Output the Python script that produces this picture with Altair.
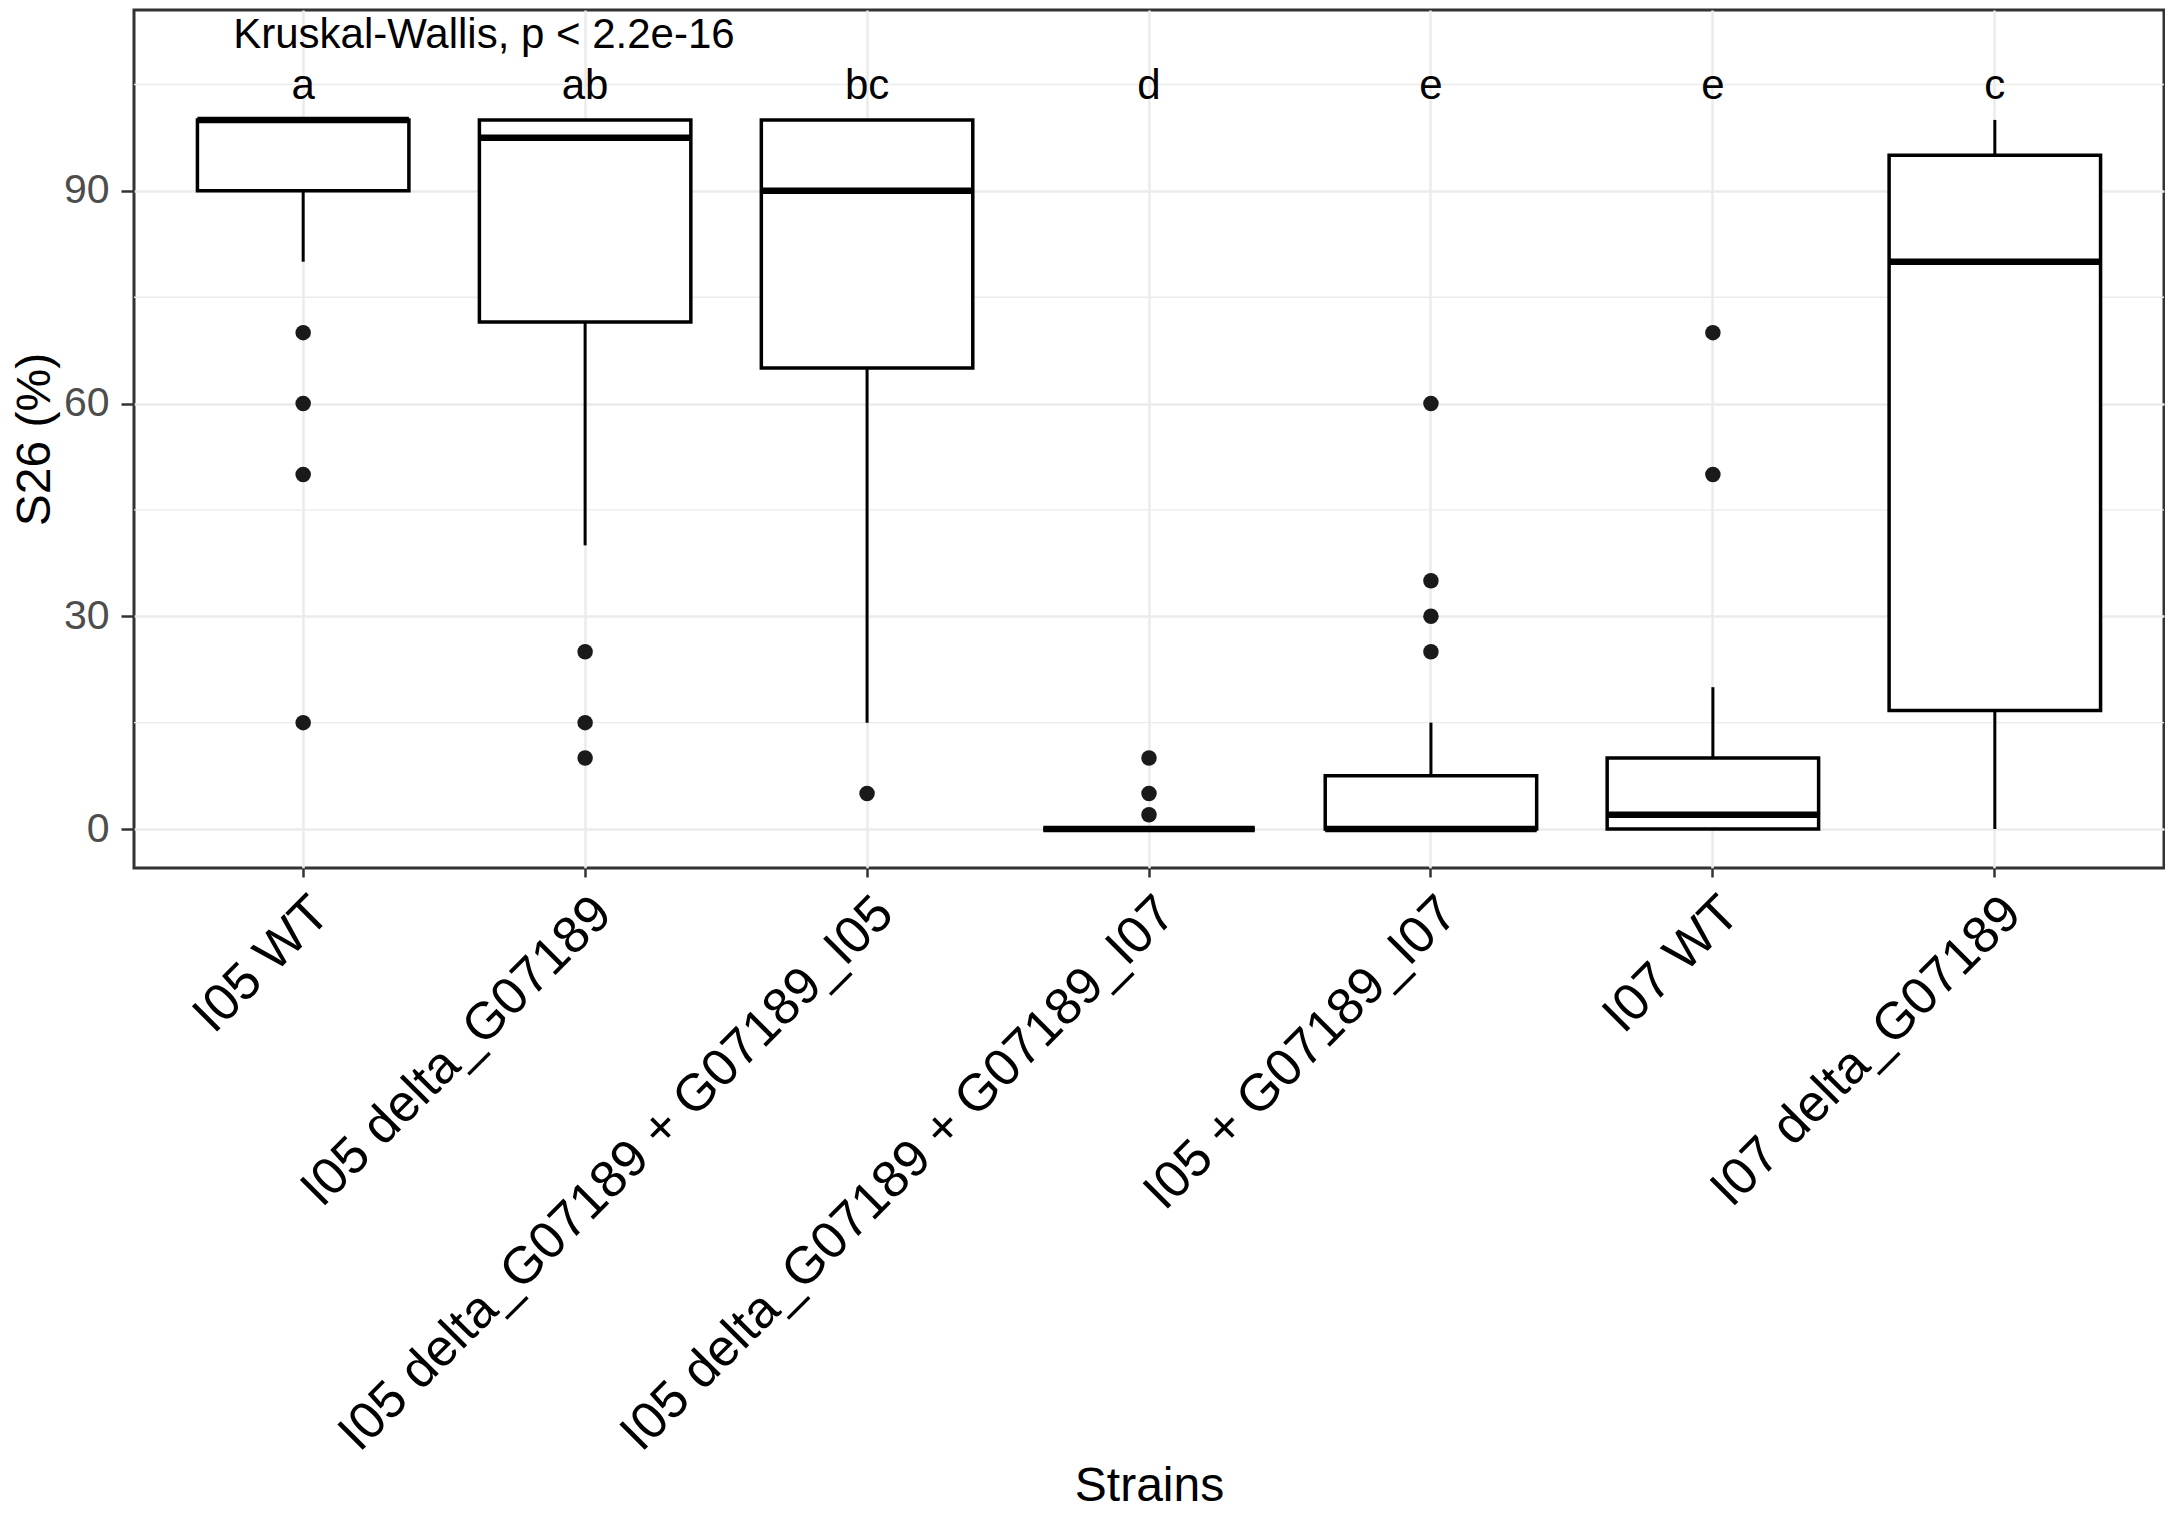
import altair as alt
import pandas as pd

# ---- data ----
strains = [
    "I05 WT",
    "I05 delta_G07189",
    "I05 delta_G07189 + G07189_I05",
    "I05 delta_G07189 + G07189_I07",
    "I05 + G07189_I07",
    "I07 WT",
    "I07 delta_G07189",
]
q1 = [90, 71.5, 65, 0, 0, 0, 16.7]
median = [100, 97.5, 90, 0, 0, 2, 80]
q3 = [100, 100, 100, 0, 7.5, 10, 95]
whisker_low = [80, 40, 15, 0, 0, 0, 0]
whisker_high = [100, 100, 100, 0, 15, 20, 100]
letters = ["a", "ab", "bc", "d", "e", "e", "c"]

outlier_strain = (
    [strains[0]] * 4 + [strains[1]] * 3 + [strains[2]] * 1 +
    [strains[3]] * 3 + [strains[4]] * 4 + [strains[5]] * 2
)
outlier_value = [70, 60, 50, 15,
                 25, 15, 10,
                 5,
                 10, 5, 2,
                 60, 35, 30, 25,
                 70, 50]

minor_grid = [15, 45, 75, 105]
major_ticks = [0, 30, 60, 90]
kw_label = "Kruskal-Wallis, p < 2.2e-16"

# ---- tables ----
box = pd.DataFrame({
    "strain": strains, "q1": q1, "median": median, "q3": q3,
    "lo": whisker_low, "hi": whisker_high, "letter": letters,
})
out = pd.DataFrame({"strain": outlier_strain, "value": outlier_value})
minor = pd.DataFrame({"y": minor_grid})
kw = pd.DataFrame({"strain": [strains[0]], "text": [kw_label]})

W = 2030
H = 858
step = W / 7.2
FONT = "Liberation Sans"

yscale = alt.Scale(domain=[-5.5, 115.5], nice=False, zero=False)

x_axis = alt.Axis(
    title="Strains", labelAngle=-45, labelAlign="right", labelBaseline="top",
    labelFontSize=52, labelColor="black", labelLimit=2000, labelOverlap=False,
    titleFontSize=48, titleFontWeight="normal", titleColor="black",
    titleBaseline="top", titleY=594,
    tickSize=9, labelPadding=10, bandPosition=0.5, grid=True,
)
x_enc = alt.X(
    "strain:N", sort=strains,
    scale=alt.Scale(paddingInner=0, paddingOuter=0.1),
    axis=x_axis,
)

y_axis = alt.Axis(
    values=major_ticks, title="S26 (%)", labelFontSize=41, labelColor="#4D4D4D",
    titleFontSize=48, titleFontWeight="normal", titleColor="black",
    tickSize=13, labelPadding=12, titlePadding=4, grid=True,
)

def yq(field):
    return alt.Y(field, type="quantitative", scale=yscale, axis=y_axis)

minor_layer = alt.Chart(minor).mark_rule(color="#EBEBEB", strokeWidth=1.4).encode(
    y=yq("y")
)

base = alt.Chart(box)

whisk_low = base.mark_rule(color="black", strokeWidth=3).encode(
    x=x_enc, y=yq("lo"), y2="q1"
)
whisk_high = base.mark_rule(color="black", strokeWidth=3).encode(
    x=x_enc, y=yq("q3"), y2="hi"
)
boxes = base.mark_bar(
    fill="white", stroke="black", strokeWidth=3.5, opacity=1,
    width=alt.RelativeBandSize(0.75),
).encode(x=x_enc, y=yq("q1"), y2="q3")

medians = base.mark_tick(
    color="black", size=step * 0.75, thickness=6.5, orient="horizontal", opacity=1
).encode(x=x_enc, y=yq("median"))

points = alt.Chart(out).mark_circle(size=240, color="#1a1a1a", opacity=1).encode(
    x=x_enc, y=yq("value")
)

letter_layer = base.mark_text(
    fontSize=42, baseline="alphabetic", align="center", color="black", font=FONT
).encode(x=x_enc, y=alt.YDatum(103.0, scale=yscale), text="letter:N")

kw_layer = alt.Chart(kw).mark_text(
    fontSize=42, baseline="alphabetic", align="left", dx=-70, color="black", font=FONT
).encode(x=x_enc, y=alt.YDatum(110.1, scale=yscale), text="text:N")

chart = alt.layer(
    minor_layer, whisk_low, whisk_high, boxes, medians, points, letter_layer, kw_layer
).properties(
    width=W, height=H,
    padding={"left": 3, "top": 2, "right": 0, "bottom": 0},
).configure(
    font=FONT, background="white"
).configure_view(
    stroke="#333333", strokeWidth=3
).configure_axis(
    domain=False, gridColor="#EBEBEB", gridWidth=2.5,
    tickColor="#333333", tickWidth=2.5,
    labelFont=FONT, titleFont=FONT,
)

chart.save("out.html", embed_options={"renderer": "svg", "actions": False})
